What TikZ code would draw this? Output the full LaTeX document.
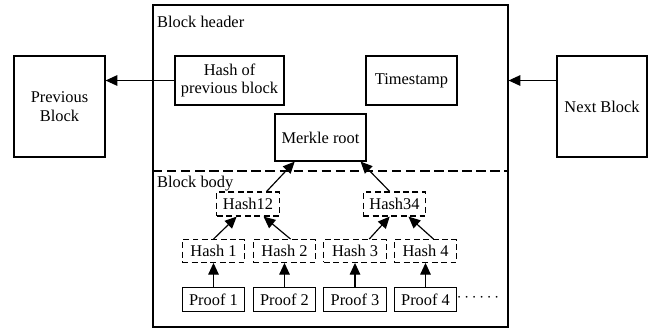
\documentclass[tikz,border=0pt]{standalone}
\usepackage{fontspec}
\setmainfont{Liberation Serif}
\usepackage{tikz}
\usetikzlibrary{arrows.meta,calc,positioning}

\tikzset{
  box/.style={draw,line width=1pt,inner sep=2pt,align=center},
  hashbox/.style={box,dash pattern=on 5pt off 3pt,minimum width=1.87cm,minimum height=0.68cm},
  proofbox/.style={box,minimum width=1.87cm,minimum height=0.74cm},
  arr/.style={line width=1pt,-{Triangle[length=10pt,width=9pt]}}
}

\begin{document}
\begin{tikzpicture}[x=0.03cm,y=-0.03cm,font=\fontsize{14}{16}\selectfont]
\useasboundingbox (0,0) rectangle (653,331);
\node[box,minimum width=10.65cm,minimum height=9.66cm] (blk) at (330.5,166) {};
\node[box,minimum width=2.73cm,minimum height=3.03cm] (prev) at (59.5,106.5) {Previous\\Block};
\node[box,minimum width=2.7cm,minimum height=3.03cm] (next) at (602,106.5) {Next Block};
\node[anchor=base west,inner sep=0pt] (hdr) at (157,27) {Block header};
\node[anchor=base west,inner sep=0pt] (body) at (157,187) {Block body};
\coordinate (sepL) at (153,171);
\coordinate (sepR) at (508,171);
\draw[line width=1pt,dash pattern=on 8pt off 4pt] (sepL) -- (sepR);
\node[box,minimum width=3.27cm,minimum height=1.47cm] (hp) at (229.5,80.5) {Hash of\\previous block};
\node[box,minimum width=2.73cm,minimum height=1.47cm] (ts) at (411.5,80.5) {Timestamp};
\node[box,minimum width=2.73cm,minimum height=1.41cm] (mr) at (320.5,137.5) {Merkle root};
\node[hashbox,minimum height=0.72cm] (h12) at (248,204) {Hash12};
\node[hashbox,minimum height=0.72cm] (h34) at (394.5,204) {Hash34};
\foreach \i/\x in {1/213.5,2/284.5,3/355,4/425.5}{
  \node[hashbox] (h\i) at (\x,251) {Hash \i};
  \node[proofbox] (p\i) at (\x,299.5) {Proof \i};
  \draw[arr] (p\i.north) -- (h\i.south);
}
\node[inner sep=0pt] (dots) at (478,298) {$\cdots\cdots$};
\draw[arr] (hp.west) -- (prev.east |- hp.west);
\draw[arr] (next.west |- hp.west) -- (blk.east |- hp.west);
\draw[arr] (h12.34) -- (mr.223);
\draw[arr] (h34.111) -- (mr.329);
\draw[arr] (h1.north) -- (h12.228);
\draw[arr] (h2.63) -- (h12.321);
\draw[arr] (h3.40) -- (h34.249);
\draw[arr] (h4.56) -- (h34.318);
\end{tikzpicture}
\end{document}
